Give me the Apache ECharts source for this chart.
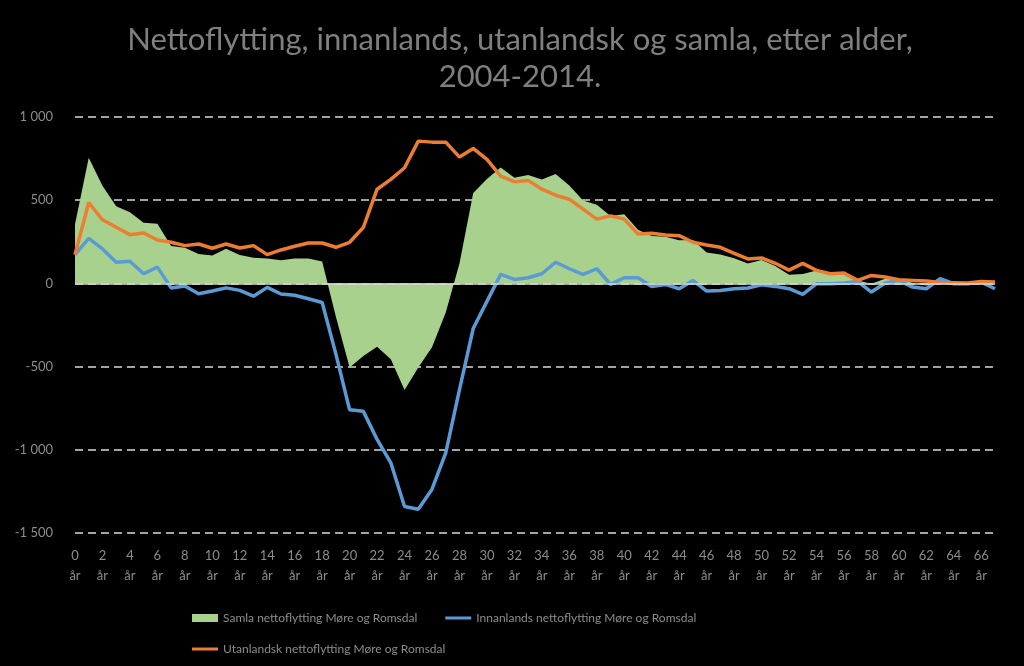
<!DOCTYPE html>
<html>
<head>
<meta charset="utf-8">
<script src="https://cdn.jsdelivr.net/npm/echarts@6/dist/echarts.min.js"></script>
<style>
html,body{margin:0;padding:0;background:#000;}
#chart{width:1024px;height:666px;}
</style>
</head>
<body>
<div id="chart"></div>
<script>
const ages = [];
for (let i = 0; i <= 67; i++) ages.push(i + '\når');

const samla = [355,755,587,463,427,364,358,225,214,176,168,208,171,154,150,139,150,149,132,
  -200,-505,-436,-380,-456,-640,-506,-384,-175,120,543,628,697,635,652,625,657,
  588,498,472,405,416,322,285,281,260,261,186,174,151,120,141,105,52,56,77,
  58,58,18,-2,28,28,2,-12,8,2,2,8,-2];
const innanlands = [173,271,207,127,133,58,98,-27,-16,-62,-46,-27,-42,-77,-24,-64,-71,-92,-115,
  -425,-760,-769,-938,-1078,-1341,-1357,-1237,-1018,-639,-271,-108,54,24,34,58,127,
  88,54,88,-6,34,34,-18,-6,-32,18,-46,-42,-32,-28,-8,-18,-32,-66,-2,
  -2,2,12,-52,2,18,-22,-32,28,-2,-2,8,-32];
const utanlandsk = [173,486,382,337,293,303,261,247,227,237,211,237,213,227,173,201,223,243,243,
  217,247,337,566,625,695,855,849,849,759,811,745,645,611,619,566,530,
  506,446,386,406,386,297,301,291,287,247,231,217,181,147,153,121,80,120,78,
  58,62,18,48,38,22,18,14,6,4,2,12,8];

const names = {
  samla: 'Samla nettoflytting Møre og Romsdal',
  inn: 'Innanlands nettoflytting Møre og Romsdal',
  ut: 'Utanlandsk nettoflytting Møre og Romsdal'
};

const FONT = "Lato, 'Open Sans', sans-serif";
const LINE_ICON = 'path://M0,0h26v3h-26z';
const legendBase = {
  itemWidth: 26, itemHeight: 8, itemGap: 28,
  textStyle: { color: '#8c8c8c', fontSize: 12, fontFamily: FONT }
};
const chart = echarts.init(document.getElementById('chart'));
chart.setOption({
  backgroundColor: '#000',
  animation: false,
  title: {
    text: 'Nettoflytting, innanlands, utanlandsk og samla, etter alder,\n2004-2014.',
    left: 515,
    top: 16,
    textAlign: 'center',
    textStyle: { color: '#7f7f7f', fontSize: 31, fontWeight: 'normal', fontFamily: FONT, lineHeight: 37, align: 'center' }
  },
  grid: { left: 75, right: 29, top: 117, bottom: 133 },
  legend: [
    Object.assign({}, legendBase, {
      left: 187, top: 607,
      data: [
        { name: names.samla, icon: 'rect' },
        { name: names.inn, icon: LINE_ICON }
      ]
    }),
    Object.assign({}, legendBase, {
      left: 187, top: 638,
      data: [ { name: names.ut, icon: LINE_ICON } ]
    })
  ],
  xAxis: {
    type: 'category',
    data: ages,
    boundaryGap: false,
    axisLine: { show: false },
    axisTick: { show: false },
    axisLabel: { interval: 1, color: '#8c8c8c', fontSize: 13, fontFamily: FONT, lineHeight: 20, margin: 13 },
    splitLine: { show: false }
  },
  yAxis: {
    type: 'value',
    min: -1500, max: 1000, interval: 500,
    axisLine: { show: false },
    axisTick: { show: false },
    axisLabel: {
      color: '#8c8c8c', fontSize: 13, fontFamily: FONT, margin: 22,
      formatter: v => {
        const s = Math.abs(v).toString().replace(/\B(?=(\d{3})+(?!\d))/g, ' ');
        return (v < 0 ? '-' : '') + s;
      }
    },
    splitLine: { show: true, lineStyle: { color: '#d9d9d9', type: [8, 5], width: 1.5 } }
  },
  series: [
    {
      name: names.samla, type: 'line', data: samla, symbol: 'none',
      lineStyle: { width: 0 }, itemStyle: { color: '#a9d18e' },
      areaStyle: { color: '#a9d18e', opacity: 1 }, z: 1,
      markLine: {
        silent: true, symbol: 'none', label: { show: false },
        lineStyle: { color: '#d9d9d9', type: 'solid', width: 1.5 },
        data: [{ yAxis: 0 }]
      }
    },
    {
      name: names.inn, type: 'line', data: innanlands, symbol: 'none',
      lineStyle: { width: 3.5, color: '#5b9bd5' }, itemStyle: { color: '#5b9bd5' }, z: 3
    },
    {
      name: names.ut, type: 'line', data: utanlandsk, symbol: 'none',
      lineStyle: { width: 3.5, color: '#ed7d31' }, itemStyle: { color: '#ed7d31' }, z: 4
    }
  ]
});
</script>
</body>
</html>
